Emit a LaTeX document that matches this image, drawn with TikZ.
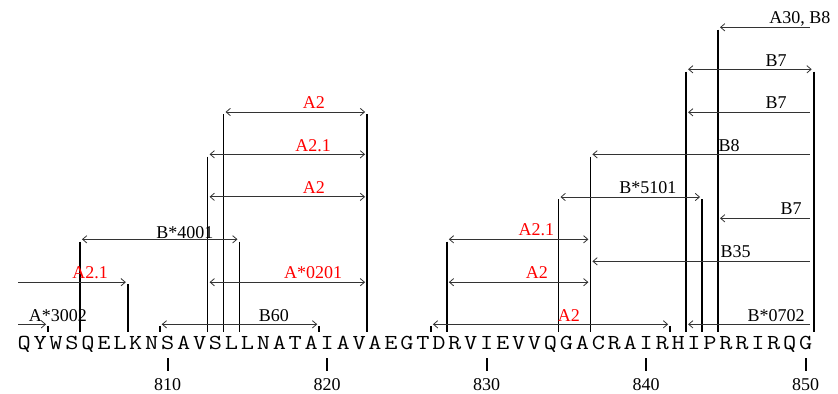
\documentclass[tikz,border=0pt]{standalone}
\usepackage{fontspec}
\setmainfont{Liberation Serif}
\usetikzlibrary{arrows.meta}

\begin{document}
\begin{tikzpicture}[
  x=11.9625pt, y=-0.75pt,
  cut/.style={line width=1.3pt},
  span/.style={line width=0.6pt, draw=black!80, >={Straight Barb[length=3.2pt,width=5.5pt]}, shorten <=1.5pt, shorten >=1.5pt},
  lab/.style={anchor=base, inner sep=0pt, font=\fontsize{13.5}{14}\selectfont},
  hot/.style={lab, text=red},
  res/.style={anchor=base, inner sep=0pt, font=\fontsize{16}{16}\selectfont\ttfamily}
]
  \useasboundingbox (-1.0144,0) rectangle (51.524,393);

  % Sequenz 801-850
  \foreach \r [count=\i] in {Q,Y,W,S,Q,E,L,K,N,S,A,V,S,L,L,N,A,T,A,I,A,V,A,E,G,T,D,R,V,I,E,V,V,Q,G,A,C,R,A,I,R,H,I,P,R,R,I,R,Q,G}
    \node[res] (r\i) at (\i-0.5,349.3) {\scalebox{1.2}[1]{\r}};

  % Skala
  \foreach \n in {1,...,5} {
    \draw[cut] (10*\n-0.5,358) -- (10*\n-0.5,371);
    \node[lab] (n\n) at (10*\n-0.5,390.5) {8\n0};
  }

  % Schnittstellen
  \draw[cut] (4,241.7) -- (4,332);
  \draw[cut] (7,284.4) -- (7,332);
  \draw[cut] (12,156.7) -- (12,332);
  \draw[cut] (13,114.4) -- (13,332);
  \draw[cut] (14,241.7) -- (14,332);
  \draw[cut] (22,114.4) -- (22,332);
  \draw[cut] (27,241.7) -- (27,332);
  \draw[cut] (34,199.4) -- (34,332);
  \draw[cut] (36,156.7) -- (36,332);
  \draw[cut] (42,71.7) -- (42,332);
  \draw[cut] (43,199.4) -- (43,332);
  \draw[cut] (44,29.7) -- (44,332);
  \draw[cut] (50,71.7) -- (50,332);
  \foreach \b in {2,9,19,26,41}
    \draw[cut] (\b,326) -- (\b,332);

  % Epitope links
  \draw[span, ->] (0,324.3) -- (2,324.3);
  \node[lab] (a3002) at (2.62,321) {A*3002};
  \draw[span, <->] (9,324.3) -- (19,324.3);
  \node[lab] (b60) at (16.16,321) {B60};
  \draw[span, ->] (0,282.2) -- (7,282.2);
  \node[hot] (a21a) at (4.63,278.5) {A2.1};
  \draw[span, <->] (12,282.2) -- (22,282.2);
  \node[hot] (a0201) at (18.61,278.5) {A*0201};
  \draw[span, <->] (4,239.3) -- (14,239.3);
  \node[lab] (b4001) at (10.58,238.3) {B*4001};
  \draw[span, <->] (12,196.8) -- (22,196.8);
  \node[hot] (a2a) at (18.67,193.5) {A2};
  \draw[span, <->] (12,154.3) -- (22,154.3);
  \node[hot] (a21b) at (18.61,151) {A2.1};
  \draw[span, <->] (13,112) -- (22,112);
  \node[hot] (a2b) at (18.67,108.5) {A2};

  % Epitope rechts
  \draw[span, <->] (26,324.3) -- (41,324.3);
  \node[hot] (a2c) at (34.65,321) {A2};
  \draw[span, <-] (42,324.3) -- (49.9,324.3);
  \node[lab] (b0702) at (47.64,321) {B*0702};
  \draw[span, <->] (27,282.2) -- (36,282.2);
  \node[hot] (a2d) at (32.64,278.5) {A2};
  \draw[span, <-] (36,261.3) -- (49.9,261.3);
  \node[lab] (b35) at (45.11,257.5) {B35};
  \draw[span, <->] (27,239.3) -- (36,239.3);
  \node[hot] (a21c) at (32.61,235.8) {A2.1};
  \draw[span, <-] (44,218.3) -- (49.9,218.3);
  \node[lab] (b7a) at (48.58,214.8) {B7};
  \draw[span, <->] (34,197) -- (43,197);
  \node[lab] (b5101) at (39.61,193) {B*5101};
  \draw[span, <-] (36,154.3) -- (49.9,154.3);
  \node[lab] (b8) at (44.69,151.7) {B8};
  \draw[span, <-] (42,112.3) -- (49.9,112.3);
  \node[lab] (b7b) at (47.64,108.8) {B7};
  \draw[span, <->] (42,69.3) -- (50,69.3);
  \node[lab] (b7c) at (47.64,66.7) {B7};
  \draw[span, <-] (44,27.3) -- (49.9,27.3);
  \node[lab] (a30b8) at (49.14,23.5) {A30, B8};
\end{tikzpicture}
\end{document}
